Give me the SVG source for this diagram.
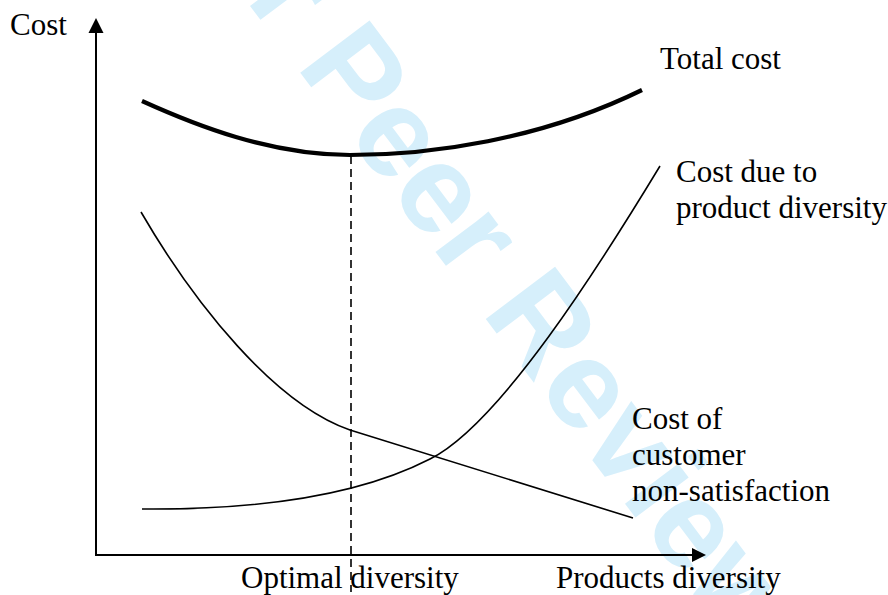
<svg xmlns="http://www.w3.org/2000/svg" width="888" height="595" viewBox="0 0 888 595">
<style>
.lbl{font-family:"Liberation Serif","Times New Roman",serif;font-size:31px;fill:#000}
.wm{font-family:"Liberation Sans",Arial,sans-serif;font-weight:bold;font-size:126px;fill:#d6effb}
.crv{fill:none;stroke:#000;stroke-width:1.6}
.axis{fill:none;stroke:#000;stroke-width:2}
</style>
<rect width="888" height="595" fill="#fff"/>
<g id="watermark">
<text class="wm" transform="translate(152,-124) rotate(53)">For Peer Review</text>
</g>
<g id="connectors">
<line class="axis" x1="96" y1="556" x2="96" y2="30"/>
<line class="axis" x1="95" y1="555" x2="694" y2="555"/>
<polygon points="96,18 88.5,33 103.5,33" fill="#000"/>
<polygon points="706,555 692,548 692,562" fill="#000"/>
<line x1="351" y1="156" x2="351" y2="592" stroke="#000" stroke-width="1.6" stroke-dasharray="8,5"/>
</g>
<g id="total-cost">
<path d="M142,101 C195,125 270,155 350,155 C430,155 540,140 642,90" fill="none" stroke="#000" stroke-width="4.2"/>
<text class="lbl" x="660" y="69">Total cost</text>
</g>
<g id="diversity-cost">
<path class="crv" d="M142,509 C260,510 360,495 430,459 C500,424 600,265 660,166"/>
<text class="lbl" x="676" y="182">Cost due to</text>
<text class="lbl" x="676" y="218">product diversity</text>
</g>
<g id="non-satisfaction-cost">
<path class="crv" d="M141,212 C195,305 275,404 350,430 L633,518"/>
<text class="lbl" x="632" y="429">Cost of</text>
<text class="lbl" x="632" y="465">customer</text>
<text class="lbl" x="632" y="501">non-satisfaction</text>
</g>
<g id="y-label"><text class="lbl" x="10" y="35">Cost</text></g>
<g id="x-labels">
<text class="lbl" x="241" y="588">Optimal diversity</text>
<text class="lbl" x="556" y="588">Products diversity</text>
</g>
</svg>
